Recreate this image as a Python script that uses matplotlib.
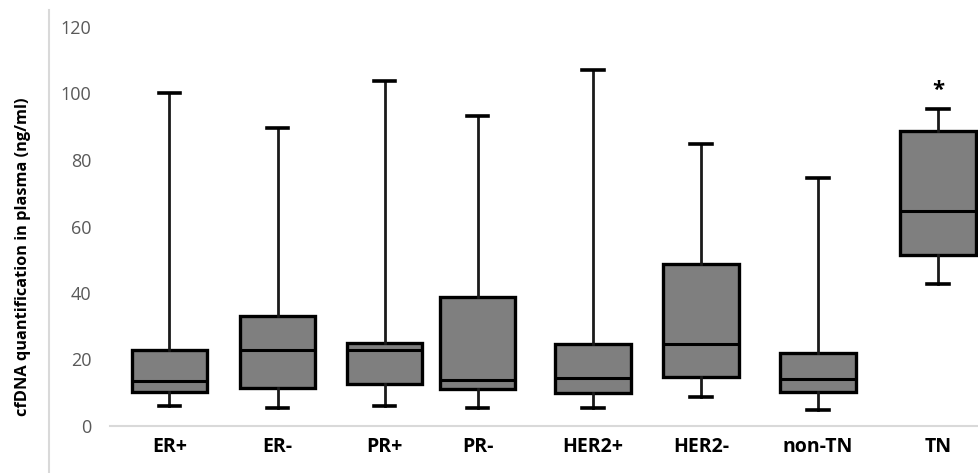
import numpy as np
import matplotlib.pyplot as plt
from matplotlib.lines import Line2D

# cfDNA levels per receptor subgroup
groups = ['ER+', 'ER-', 'PR+', 'PR-', 'HER2+', 'HER2-', 'non-TN', 'TN']
whisker_low = [6.0, 5.4, 6.0, 5.4, 5.4, 8.7, 4.8, 42.7]
q1 = [10.2, 11.4, 12.6, 11.1, 9.9, 14.7, 10.2, 51.4]
median = [13.5, 23.0, 22.9, 13.8, 14.4, 24.7, 14.1, 64.7]
q3 = [22.9, 33.0, 25.0, 38.8, 24.7, 48.7, 22.0, 88.7]
whisker_high = [100.2, 89.6, 103.8, 93.2, 107.2, 84.9, 74.6, 95.3]
significant = ['TN']

xpos = [0.55, 1.55, 2.54, 3.40, 4.47, 5.47, 6.55, 7.66]

plt.rcParams['font.family'] = ['Open Sans', 'DejaVu Sans']

fig = plt.figure(figsize=(9.79, 4.73), dpi=100)
ax = fig.add_axes([110 / 979, 47 / 473, 869 / 979, 399 / 473])

stats = []
for i, g in enumerate(groups):
    stats.append({'label': g, 'whislo': whisker_low[i], 'q1': q1[i],
                  'med': median[i], 'q3': q3[i], 'whishi': whisker_high[i]})

ax.bxp(stats, positions=xpos, widths=0.70, patch_artist=True,
       showfliers=False,
       boxprops=dict(facecolor='#7f7f7f', edgecolor='black', linewidth=2.4),
       medianprops=dict(color='black', linewidth=2.2),
       whiskerprops=dict(color='#1a1a1a', linewidth=2.0),
       capprops=dict(color='black', linewidth=2.6),
       capwidths=0.2)

for g, x, hi in zip(groups, xpos, whisker_high):
    if g in significant:
        ax.text(x, hi + 2.5, '*', ha='center', va='bottom',
                fontsize=16, fontweight='bold', color='black')

ax.set_xlim(0, 869 / 108.1)
ax.set_ylim(0, 120)
ax.set_yticks(np.arange(0, 121, 20))
ax.set_xticks(xpos)
ax.set_xticklabels(groups, fontsize=14, fontweight='bold', color='black')
ax.tick_params(axis='x', length=0, pad=8)
ax.tick_params(axis='y', length=0, pad=13.5, labelsize=13, labelcolor='#595959')

for side in ['top', 'right', 'left']:
    ax.spines[side].set_visible(False)
ax.spines['bottom'].set_color('#d9d9d9')
ax.spines['bottom'].set_linewidth(1.5)

# separate vertical rule left of the tick labels
fig.add_artist(Line2D([49 / 979, 49 / 979], [0, 1 - 10 / 473],
                     transform=fig.transFigure, color='#d9d9d9', linewidth=1.5))

fig.text(23 / 979, 1 - 257 / 473, 'cfDNA quantification in plasma (ng/ml)',
         rotation=90, ha='center', va='center',
         fontsize=11.8, fontweight='bold', color='black')

plt.savefig('out.png', dpi=100)
